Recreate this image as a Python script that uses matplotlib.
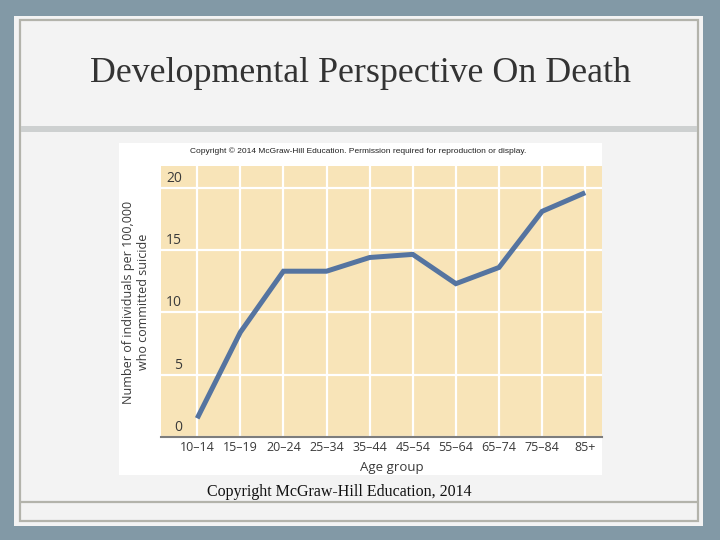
import matplotlib.pyplot as plt
from matplotlib.patches import Rectangle
from matplotlib.lines import Line2D
from matplotlib.transforms import blended_transform_factory

# data
age_groups = ["10–14", "15–19", "20–24", "25–34", "35–44",
              "45–54", "55–64", "65–74", "75–84", "85+"]
suicide_rate = [1.5, 8.4, 13.3, 13.3, 14.4, 14.65, 12.3, 13.6, 18.1, 19.6]
y_ticks = [0, 5, 10, 15, 20]

W, H = 720, 540

fig = plt.figure(figsize=(7.2, 5.4), dpi=100)
fig.patch.set_facecolor('#8299a6')


def px_rect(x0, y0, x1, y1, **kw):
    # rectangle in pixel coords measured from the top-left corner
    return Rectangle((x0 / W, 1 - y1 / H), (x1 - x0) / W, (y1 - y0) / H,
                     transform=fig.transFigure, zorder=-1, **kw)


def px_hline(y, x0, x1, **kw):
    return Line2D([x0 / W, x1 / W], [1 - y / H, 1 - y / H],
                  transform=fig.transFigure, zorder=-0.5, **kw)


# slide background
fig.patches.append(px_rect(14, 16, 703, 526, facecolor='#f3f3f3', edgecolor='none'))
fig.patches.append(px_rect(20, 20, 698, 521, facecolor='none', edgecolor='#b3b3ab', lw=1.6))
fig.patches.append(px_rect(21, 126, 697, 132, facecolor='#cdd0d0', edgecolor='none'))
fig.lines.append(px_hline(502, 21, 697, color='#b3b3ab', lw=1.6))

# pasted chart image area
fig.patches.append(px_rect(119, 143, 602, 475, facecolor='white', edgecolor='none'))

fig.text(0.5, 1 - 73 / H, "Developmental Perspective On Death",
         family='Liberation Serif', fontsize=25.8, color='#333333',
         ha='center', va='center')
fig.text(358 / W, 1 - 151 / H,
         "Copyright © 2014 McGraw-Hill Education. Permission required for reproduction or display.",
         family='Liberation Sans', fontsize=6, color='#222222', ha='center', va='center')
fig.text(207 / W, 1 - 492 / H, "Copyright McGraw-Hill Education, 2014",
         family='Liberation Serif', fontsize=11.5, color='#111111', ha='left', va='center')

# the chart itself
ax = fig.add_axes([161 / W, 1 - 437 / H, 441 / W, 271 / H])
ax.set_facecolor('#f8e4b8')
ax.set_xlim(-0.84, 9.39)
ax.set_ylim(0, 21.74)

ax.set_xticks(range(len(age_groups)))
ax.set_xticklabels(age_groups, family='Open Sans', fontsize=9, color='#3a3a3a')
ax.set_yticks(y_ticks)
ax.tick_params(axis='both', length=0)
ax.tick_params(axis='x', pad=3)
ax.tick_params(axis='y', labelleft=False)
ax.grid(True, color='white', lw=1.6)
ax.set_axisbelow(True)

for s in ['top', 'right', 'left']:
    ax.spines[s].set_visible(False)
ax.spines['bottom'].set_color('#7d7d7d')
ax.spines['bottom'].set_linewidth(1.5)

# y tick labels sit inside the plot, just above each grid line
trans = blended_transform_factory(ax.transAxes, ax.transData)
for v in y_ticks:
    ax.text(0.048, v + 0.75, str(v), transform=trans, ha='right', va='center',
            family='Open Sans', fontsize=10, color='#3a3a3a')

ax.plot(range(len(age_groups)), suicide_rate, color='#5574a0', lw=3.6,
        solid_joinstyle='miter', solid_capstyle='butt', zorder=3)

fig.text(392 / W, 1 - 468 / H, "Age group", family='Open Sans', fontsize=9.5,
         color='#3a3a3a', ha='center', va='center')
fig.text(136 / W, 1 - 302 / H, "Number of individuals per 100,000\nwho committed suicide",
         family='Open Sans', fontsize=9, color='#3a3a3a', rotation=90,
         ha='center', va='center', multialignment='center', linespacing=1.25)

fig.savefig('out.png', dpi=100, facecolor=fig.get_facecolor())
